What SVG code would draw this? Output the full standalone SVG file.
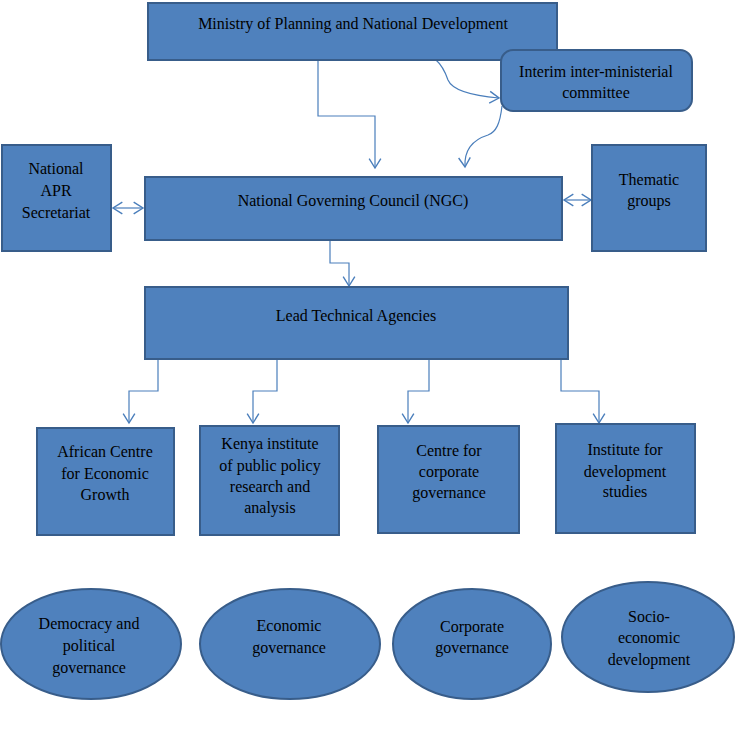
<svg xmlns="http://www.w3.org/2000/svg" width="735" height="732" viewBox="0 0 735 732">
<style>
.n{fill:#4F81BD;stroke:#385D8A;stroke-width:2}
.t{font-family:"Liberation Serif","Times New Roman",serif;font-size:16px;fill:#000;text-anchor:middle}
.c{fill:none;stroke:#4A7EBB;stroke-width:1.2}
</style>
<defs>
<marker id="a" markerUnits="userSpaceOnUse" markerWidth="14" markerHeight="14" refX="9" refY="6" orient="auto-start-reverse" viewBox="0 0 12 12">
<path d="M1,1 L9,6 L1,11" fill="none" stroke="#4A7EBB" stroke-width="1.2"/>
</marker>
</defs>
<rect width="735" height="732" fill="#fff"/>
<g id="connectors">
<path class="c" d="M318,60 V116 H375 V168" marker-end="url(#a)"/>
<path class="c" d="M435,59 C443,66 446,74 448,80 C453,92 476,96 499,98" marker-end="url(#a)"/>
<path class="c" d="M502,106 C500,124 496,132 488,135 C472,140 464,150 465,167" marker-end="url(#a)"/>
<path class="c" d="M113,208 H143" marker-start="url(#a)" marker-end="url(#a)"/>
<path class="c" d="M564,200 H591" marker-start="url(#a)" marker-end="url(#a)"/>
<path class="c" d="M330,241 V263 H349 V286" marker-end="url(#a)"/>
<path class="c" d="M158,359 V391 H129 V423" marker-end="url(#a)"/>
<path class="c" d="M277,359 V391 H253 V423" marker-end="url(#a)"/>
<path class="c" d="M429,359 V391 H408 V423" marker-end="url(#a)"/>
<path class="c" d="M561,359 V391 H599 V423" marker-end="url(#a)"/>
</g>
<g id="ministry"><rect class="n" x="148" y="3" width="409" height="57"/><text class="t" x="353" y="29">Ministry of Planning and National Development</text></g>
<g id="interim"><rect class="n" x="501" y="50" width="191" height="61" rx="12"/><text class="t" x="596" y="77">Interim inter-ministerial</text><text class="t" x="596" y="98">committee</text></g>
<g id="apr"><rect class="n" x="2" y="145" width="109" height="106"/><text class="t" x="56" y="174">National</text><text class="t" x="56" y="196">APR</text><text class="t" x="56" y="218">Secretariat</text></g>
<g id="ngc"><rect class="n" x="145" y="177" width="417" height="63"/><text class="t" x="353" y="206">National Governing Council (NGC)</text></g>
<g id="thematic"><rect class="n" x="592" y="145" width="114" height="106"/><text class="t" x="649" y="185">Thematic</text><text class="t" x="649" y="206">groups</text></g>
<g id="lta"><rect class="n" x="145" y="287" width="423" height="72"/><text class="t" x="356" y="321">Lead Technical Agencies</text></g>
<g id="aceg"><rect class="n" x="37" y="428" width="137" height="107"/><text class="t" x="105" y="457">African Centre</text><text class="t" x="105" y="479">for Economic</text><text class="t" x="105" y="500">Growth</text></g>
<g id="kippra"><rect class="n" x="200" y="426" width="139" height="109"/><text class="t" x="270" y="449">Kenya institute</text><text class="t" x="270" y="471">of public policy</text><text class="t" x="270" y="492">research and</text><text class="t" x="270" y="513">analysis</text></g>
<g id="ccg"><rect class="n" x="378" y="426" width="141" height="107"/><text class="t" x="449" y="456">Centre for</text><text class="t" x="449" y="477">corporate</text><text class="t" x="449" y="498">governance</text></g>
<g id="ids"><rect class="n" x="556" y="424" width="139" height="109"/><text class="t" x="625" y="455">Institute for</text><text class="t" x="625" y="477">development</text><text class="t" x="625" y="497">studies</text></g>
<g id="democracy"><ellipse class="n" cx="91" cy="644" rx="90" ry="55"/><text class="t" x="89" y="629">Democracy and</text><text class="t" x="89" y="651">political</text><text class="t" x="89" y="673">governance</text></g>
<g id="economic"><ellipse class="n" cx="290" cy="644" rx="90" ry="55"/><text class="t" x="289" y="631">Economic</text><text class="t" x="289" y="653">governance</text></g>
<g id="corporate"><ellipse class="n" cx="472" cy="644" rx="79" ry="55"/><text class="t" x="472" y="632">Corporate</text><text class="t" x="472" y="653">governance</text></g>
<g id="socio"><ellipse class="n" cx="648" cy="637" rx="86" ry="55"/><text class="t" x="649" y="622">Socio-</text><text class="t" x="649" y="643">economic</text><text class="t" x="649" y="665">development</text></g>
</svg>
